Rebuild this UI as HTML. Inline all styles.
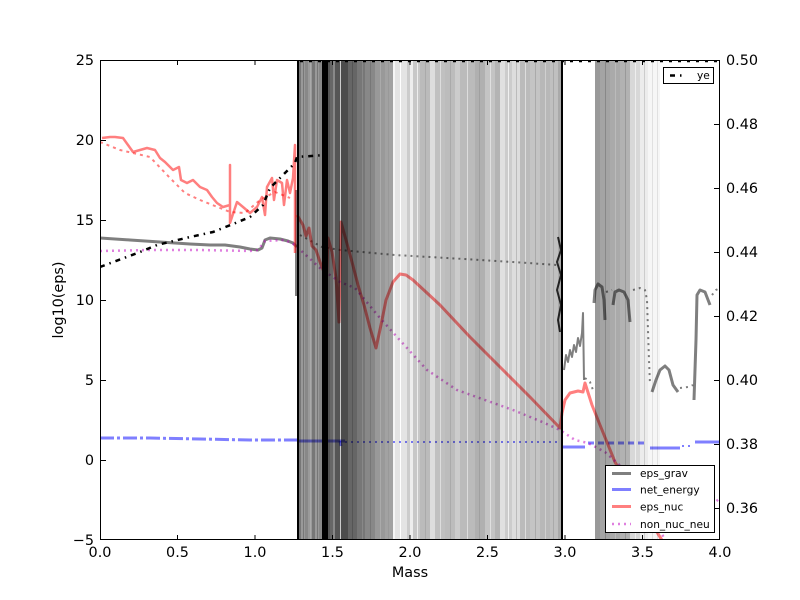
<!DOCTYPE html>
<html><head><meta charset="utf-8"><style>
html,body{margin:0;padding:0;background:#fff;}
svg{display:block;font-family:"DejaVu Sans","Liberation Sans",sans-serif;}
</style></head><body>
<svg width="800" height="600" viewBox="0 0 800 600" xmlns="http://www.w3.org/2000/svg">
<rect x="0" y="0" width="800" height="600" fill="#fff"/>
<defs><clipPath id="c"><rect x="100" y="60" width="620" height="480"/></clipPath></defs>
<g clip-path="url(#c)">

<!-- eps_grav -->
<g fill="none" stroke="#000" stroke-opacity="0.5" stroke-linejoin="round">
<polyline stroke-width="3" points="100,238 130,240 160,242 190,244 210,245 225,245 240,247 250,249 258,250 262,248 265,240 270,238 280,239 288,241 293,243 297,247"/>
<polyline stroke-width="2" points="296,190 296,296"/>
<polyline stroke-width="2" stroke-dasharray="2,4" points="300,235 322,247 340,250 395,255 447,258 513,262 557,265"/>
<polyline stroke-width="2" stroke-opacity="0.8" points="558,237 561,250 557,262 561,275 557,290 561,305 558,320 560,332"/>
<polyline stroke-width="2" points="564,370 566,355 568,362 570,350 572,357 574,345 576,352 578,338 580,346 582,333 583,313 584,380"/>
<polyline stroke-width="2" stroke-dasharray="2,4" points="585,378 590,382 593,390"/>
<polyline stroke-width="3" points="594,303 595,290 598,284 602,287 604,300 605,320"/>
<polyline stroke-width="2" stroke-dasharray="2,4" points="606,292 612,290"/>
<polyline stroke-width="3" points="613,305 615,292 619,290 624,292 628,300 630,322"/>
<polyline stroke-width="2" stroke-dasharray="2,4" points="633,290 640,288 645,290 647,300 648,330 649,360 650,385"/>
<polyline stroke-width="3" points="652,392 656,380 660,370 665,366 669,370 673,385 678,392"/>
<polyline stroke-width="2" stroke-dasharray="2,4" points="680,388 688,387 693,385"/>
<polyline stroke-width="3" points="694,400 696,340 697,295 700,290 705,292 710,305"/>
<polyline stroke-width="2" stroke-dasharray="2,4" points="712,295 716,290 720,288"/>
</g>

<!-- net_energy -->
<g fill="none" stroke="#0000ff" stroke-opacity="0.5" stroke-width="3">
<polyline stroke-dasharray="14,3,3,3" points="100,438 150,438 200,439 250,440 297,440"/>
<polyline points="299,441 345,441"/>
<polyline stroke-width="2" stroke-dasharray="2,4" points="345,442 560,442"/>
<polyline points="340,441 341,446"/>
<polyline points="563,447 585,447"/>
<polyline stroke-dasharray="6,4" points="588,443 648,443"/>
<polyline points="650,448 680,448"/>
<polyline stroke-width="2" stroke-dasharray="2,4" points="682,446 693,446"/>
<polyline points="695,442 720,442"/>
</g>

<!-- eps_nuc -->
<g fill="none" stroke="#ff0000" stroke-opacity="0.5" stroke-linejoin="round">
<polyline stroke-width="2.5" points="102,138 110,137 115,137 123,138 128,145 133,152 140,150 147,148 155,150 160,158 165,162 173,170 179,167 181,180 187,183 193,180 200,187 207,190 212,197 217,203 223,207 230,205 230,165 230,223 237,202 243,207 250,213 257,207 262,197 265,215 267,187 272,178 274,200 277,180 282,183 284,205 287,180 290,193 293,178 295,145 295,253"/>
<polyline stroke-width="2" stroke-dasharray="3,4" points="100,142 120,150 150,157 170,178 185,193 200,200 215,206 230,212 245,213 260,200 275,192 290,198"/>
<polyline stroke-width="3" points="297,215 303,225 306,236 309,228 312,246 316,250 320,262 324,272 326,292 328,238 332,252 336,278 339,322 341,222 346,240 352,262 358,285 364,305 370,328 376,348 381,325 386,300 393,282 400,274 406,275 413,280 440,305 470,337 500,367 530,397 560,428 562,413 565,400 570,393 578,391 583,392 585,383 592,405 600,425 615,462 640,505 665,545"/>
</g>

<!-- non_nuc_neu -->
<g fill="none" stroke="#bf00bf" stroke-opacity="0.5" stroke-width="2.5" stroke-dasharray="2,4">
<polyline points="100,251 150,250 200,250 250,251 258,250 265,241 285,240 297,246"/>
<polyline points="297,247 320,268 340,282 355,288 380,318 397,337 427,370 457,390 485,400 513,410 540,421 560,430 575,440 588,443 605,452 625,470 645,500 665,540"/>
<polyline points="712,505 720,498"/>
</g>

<!-- ye -->
<g fill="none" stroke="#000" stroke-width="2.5">
<polyline stroke-dasharray="5,5,1.5,5" points="100,267 140,252 157,245 190,237 213,232 233,224 250,217 263,205 270,188 283,175 295,163 297,157 325,155 327,150"/>
<line x1="300" y1="61" x2="720" y2="61" stroke-dasharray="3,6"/>
</g>

<!-- gray bands (overlay, multiply) -->
<g style="mix-blend-mode:multiply">
<rect x="299" y="60" width="2" height="480" fill="#777"/>
<rect x="301" y="60" width="4" height="480" fill="#999"/>
<rect x="305" y="60" width="3" height="480" fill="#888"/>
<rect x="308" y="60" width="4" height="480" fill="#9a9a9a"/>
<rect x="312" y="60" width="3" height="480" fill="#777"/>
<rect x="315" y="60" width="4" height="480" fill="#999"/>
<rect x="319" y="60" width="3" height="480" fill="#888"/>
<rect x="328" y="60" width="2" height="480" fill="#555"/>
<rect x="330" y="60" width="3" height="480" fill="#666"/>
<rect x="333" y="60" width="2" height="480" fill="#888"/>
<rect x="335" y="60" width="5" height="480" fill="#555"/>
<rect x="340" y="60" width="1" height="480" fill="#ccc"/>
<rect x="341" y="60" width="7" height="480" fill="#4c4c4c"/>
<rect x="348" y="60" width="9" height="480" fill="#666"/>
<rect x="357" y="60" width="8" height="480" fill="#777"/>
<rect x="365" y="60" width="10" height="480" fill="#888"/>
<rect x="375" y="60" width="10" height="480" fill="#999"/>
<rect x="385" y="60" width="8" height="480" fill="#a2a2a2"/>
<rect x="393" y="60" width="2" height="480" fill="#f6f6f6"/>
<rect x="395" y="60" width="12" height="480" fill="#e4e4e4"/>
<rect x="407" y="60" width="3" height="480" fill="#ccc"/>
<rect x="410" y="60" width="3" height="480" fill="#eee"/>
<rect x="413" y="60" width="7" height="480" fill="#c8c8c8"/>
<rect x="420" y="60" width="10" height="480" fill="#bbb"/>
<rect x="430" y="60" width="5" height="480" fill="#ddd"/>
<rect x="435" y="60" width="10" height="480" fill="#c0c0c0"/>
<rect x="445" y="60" width="10" height="480" fill="#bcbcbc"/>
<rect x="455" y="60" width="5" height="480" fill="#ccc"/>
<rect x="460" y="60" width="15" height="480" fill="#bbb"/>
<rect x="475" y="60" width="10" height="480" fill="#b0b0b0"/>
<rect x="485" y="60" width="10" height="480" fill="#c4c4c4"/>
<rect x="495" y="60" width="5" height="480" fill="#b4b4b4"/>
<rect x="500" y="60" width="5" height="480" fill="#e0e0e0"/>
<rect x="505" y="60" width="7" height="480" fill="#ccc"/>
<rect x="512" y="60" width="8" height="480" fill="#ddd"/>
<rect x="520" y="60" width="10" height="480" fill="#bbb"/>
<rect x="530" y="60" width="10" height="480" fill="#c4c4c4"/>
<rect x="540" y="60" width="10" height="480" fill="#b8b8b8"/>
<rect x="550" y="60" width="8" height="480" fill="#c0c0c0"/>
<rect x="558" y="60" width="3" height="480" fill="#aaa"/>
<rect x="595" y="60" width="5" height="480" fill="#999"/>
<rect x="600" y="60" width="10" height="480" fill="#a4a4a4"/>
<rect x="610" y="60" width="10" height="480" fill="#aaa"/>
<rect x="620" y="60" width="10" height="480" fill="#b2b2b2"/>
<rect x="630" y="60" width="10" height="480" fill="#d8d8d8"/>
<rect x="640" y="60" width="8" height="480" fill="#ececec"/>
<rect x="648" y="60" width="12" height="480" fill="#f6f6f6"/>
<g stroke-width="1">
<line x1="303.5" y1="60" x2="303.5" y2="540" stroke="#777"/>
<line x1="310.5" y1="60" x2="310.5" y2="540" stroke="#aaa"/>
<line x1="317.5" y1="60" x2="317.5" y2="540" stroke="#777"/>
<line x1="352.5" y1="60" x2="352.5" y2="540" stroke="#555"/>
<line x1="362.5" y1="60" x2="362.5" y2="540" stroke="#888"/>
<line x1="370.5" y1="60" x2="370.5" y2="540" stroke="#777"/>
<line x1="380.5" y1="60" x2="380.5" y2="540" stroke="#aaa"/>
<line x1="388.5" y1="60" x2="388.5" y2="540" stroke="#999"/>
<line x1="400.5" y1="60" x2="400.5" y2="540" stroke="#fff"/>
<line x1="417.5" y1="60" x2="417.5" y2="540" stroke="#eee"/>
<line x1="425.5" y1="60" x2="425.5" y2="540" stroke="#aaa"/>
<line x1="440.5" y1="60" x2="440.5" y2="540" stroke="#ddd"/>
<line x1="450.5" y1="60" x2="450.5" y2="540" stroke="#aaa"/>
<line x1="467.5" y1="60" x2="467.5" y2="540" stroke="#ddd"/>
<line x1="479.5" y1="60" x2="479.5" y2="540" stroke="#a0a0a0"/>
<line x1="490.5" y1="60" x2="490.5" y2="540" stroke="#e0e0e0"/>
<line x1="508.5" y1="60" x2="508.5" y2="540" stroke="#f0f0f0"/>
<line x1="516.5" y1="60" x2="516.5" y2="540" stroke="#bbb"/>
<line x1="525.5" y1="60" x2="525.5" y2="540" stroke="#ddd"/>
<line x1="535.5" y1="60" x2="535.5" y2="540" stroke="#aaa"/>
<line x1="545.5" y1="60" x2="545.5" y2="540" stroke="#d0d0d0"/>
<line x1="553.5" y1="60" x2="553.5" y2="540" stroke="#aaa"/>
<line x1="605.5" y1="60" x2="605.5" y2="540" stroke="#888"/>
<line x1="615.5" y1="60" x2="615.5" y2="540" stroke="#bbb"/>
<line x1="625.5" y1="60" x2="625.5" y2="540" stroke="#999"/>
<line x1="635.5" y1="60" x2="635.5" y2="540" stroke="#eee"/>
<line x1="644.5" y1="60" x2="644.5" y2="540" stroke="#ccc"/>
<line x1="652.5" y1="60" x2="652.5" y2="540" stroke="#e0e0e0"/>
<line x1="657.5" y1="60" x2="657.5" y2="540" stroke="#e0e0e0"/>
</g>
</g>
<!-- black lines -->
<rect x="297" y="60" width="2" height="480" fill="#000"/>
<rect x="322" y="60" width="6" height="480" fill="#000"/>
<rect x="561" y="60" width="2" height="480" fill="#000"/>
</g>

<!-- axes frame -->
<rect x="100.5" y="60.5" width="619" height="479" fill="none" stroke="#000" stroke-width="1"/>
<g stroke="#000" stroke-width="1">
<line x1="177.5" y1="540" x2="177.5" y2="535"/><line x1="177.5" y1="60" x2="177.5" y2="65"/>
<line x1="255" y1="540" x2="255" y2="535"/><line x1="255" y1="60" x2="255" y2="65"/>
<line x1="332.5" y1="540" x2="332.5" y2="535"/><line x1="332.5" y1="60" x2="332.5" y2="65"/>
<line x1="410" y1="540" x2="410" y2="535"/><line x1="410" y1="60" x2="410" y2="65"/>
<line x1="487.5" y1="540" x2="487.5" y2="535"/><line x1="487.5" y1="60" x2="487.5" y2="65"/>
<line x1="565" y1="540" x2="565" y2="535"/><line x1="565" y1="60" x2="565" y2="65"/>
<line x1="642.5" y1="540" x2="642.5" y2="535"/><line x1="642.5" y1="60" x2="642.5" y2="65"/>
<line x1="100" y1="460.5" x2="106" y2="460.5"/>
<line x1="100" y1="380.5" x2="106" y2="380.5"/>
<line x1="100" y1="300.5" x2="106" y2="300.5"/>
<line x1="100" y1="220.5" x2="106" y2="220.5"/>
<line x1="100" y1="140.5" x2="106" y2="140.5"/>
<line x1="720" y1="508.5" x2="714" y2="508.5"/>
<line x1="720" y1="444.5" x2="714" y2="444.5"/>
<line x1="720" y1="380.5" x2="714" y2="380.5"/>
<line x1="720" y1="316.5" x2="714" y2="316.5"/>
<line x1="720" y1="252.5" x2="714" y2="252.5"/>
<line x1="720" y1="188.5" x2="714" y2="188.5"/>
<line x1="720" y1="124.5" x2="714" y2="124.5"/>
</g>

<g font-size="14.4" fill="#000">
<g text-anchor="middle">
<text x="100" y="557">0.0</text>
<text x="177.5" y="557">0.5</text>
<text x="255" y="557">1.0</text>
<text x="332.5" y="557">1.5</text>
<text x="410" y="557">2.0</text>
<text x="487.5" y="557">2.5</text>
<text x="565" y="557">3.0</text>
<text x="642.5" y="557">3.5</text>
<text x="720" y="557">4.0</text>
</g>
<g text-anchor="end">
<text x="94" y="545">−5</text>
<text x="94" y="465">0</text>
<text x="94" y="385">5</text>
<text x="94" y="305">10</text>
<text x="94" y="225">15</text>
<text x="94" y="145">20</text>
<text x="94" y="65">25</text>
</g>
<g text-anchor="start">
<text x="726" y="65">0.50</text>
<text x="726" y="129">0.48</text>
<text x="726" y="193">0.46</text>
<text x="726" y="257">0.44</text>
<text x="726" y="321">0.42</text>
<text x="726" y="385">0.40</text>
<text x="726" y="449">0.38</text>
<text x="726" y="513">0.36</text>
</g>
<text x="410" y="577" text-anchor="middle">Mass</text>
<text x="0" y="0" text-anchor="middle" transform="translate(63,300) rotate(-90)">log10(eps)</text>
</g>

<rect x="663.5" y="67.5" width="50" height="16" fill="#fff" stroke="#000" stroke-width="1"/>
<line x1="670" y1="75.5" x2="686" y2="75.5" stroke="#000" stroke-width="2.5" stroke-dasharray="5,5,1.5,5"/>
<text x="697" y="79" font-size="10.6">ye</text>

<rect x="605.5" y="465.5" width="109" height="67" fill="#fff" stroke="#000" stroke-width="1"/>
<g stroke-width="3">
<line x1="612" y1="473.5" x2="631" y2="473.5" stroke="#000" stroke-opacity="0.5"/>
<line x1="612" y1="489.5" x2="631" y2="489.5" stroke="#0000ff" stroke-opacity="0.5"/>
<line x1="612" y1="506.5" x2="631" y2="506.5" stroke="#ff0000" stroke-opacity="0.5"/>
<line x1="612" y1="524" x2="631" y2="524" stroke="#bf00bf" stroke-opacity="0.5" stroke-width="2.5" stroke-dasharray="2,4"/>
</g>
<g font-size="10.6" fill="#000">
<text x="640" y="477">eps_grav</text>
<text x="640" y="493.5">net_energy</text>
<text x="640" y="510.5">eps_nuc</text>
<text x="640" y="528">non_nuc_neu</text>
</g>
</svg>
</body></html>
